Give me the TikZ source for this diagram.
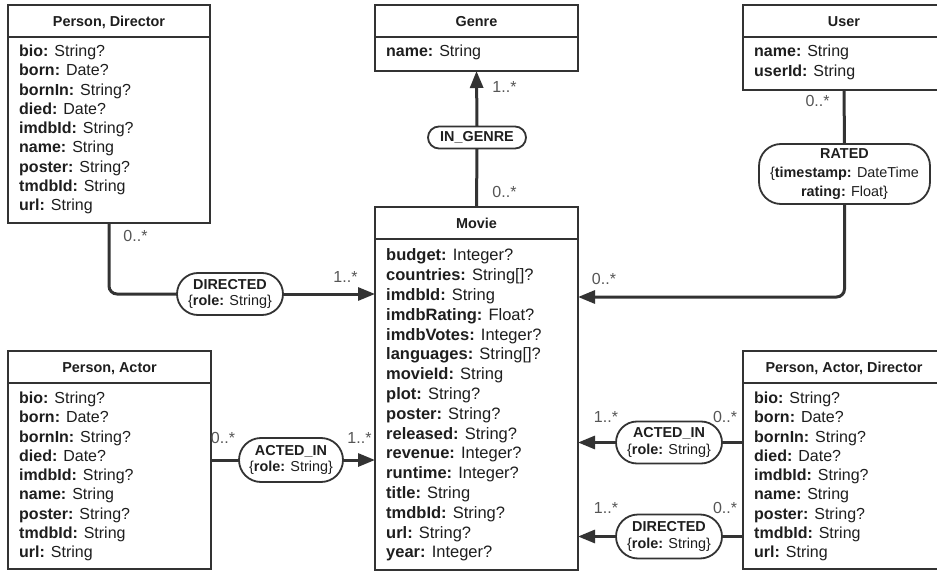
\documentclass[tikz,border=0pt]{standalone}
\usepackage{fontspec}
\setmainfont{Liberation Sans}
\usetikzlibrary{arrows.meta,calc}

\definecolor{ink}{HTML}{333333}
\definecolor{txt}{HTML}{1E1E1E}
\definecolor{cardgray}{HTML}{555555}

\newcommand\headfont{\fontsize{14.4}{17}\selectfont\bfseries}
\newcommand\pillfont{\fontsize{14.4}{16.5}\selectfont}
\newcommand\cardfont{\fontsize{16}{19}\selectfont}

% one text line per attribute, left aligned inside the body of an entity box
% #1 name prefix, #2 box, #3 first baseline below top, #4 line pitch, #5 font size, #6 lines
\newcommand\attrlines[6]{%
  \foreach \entry [count=\k] in {#6}{%
    \pgfmathsetmacro\dy{#3+(\k-1)*#4}%
    \node[attr, font=\fontsize{#5}{#5}\selectfont] (#1-\k)
      at ([xshift=11pt,yshift=-\dy pt]#2.north west) {\entry};
  }}

\begin{document}
\begin{tikzpicture}[x=1pt,y=-1pt,
  entity/.style={draw=ink, line width=2pt, fill=white, inner sep=0pt, outer sep=0pt},
  divider/.style={draw=ink, line width=2pt},
  head/.style={anchor=base, inner sep=0pt, font=\headfont, text=txt},
  attr/.style={anchor=base west, inner sep=0pt, text=txt},
  pill/.style={draw=ink, line width=1.8pt, fill=white, align=center,
    font=\pillfont, text=txt, inner sep=0pt, outer sep=0pt},
  card/.style={inner sep=0pt, font=\cardfont, text=cardgray},
  conn/.style={draw=ink, line width=3pt},
  arr/.style={conn, -{Triangle[length=17pt,width=13pt]}},
]
\useasboundingbox (0,0) rectangle (937,572);
\fill[white] (0,0) rectangle (937,572);
\clip (0,0) rectangle (937,572);

% ---------- entity boxes ----------
\node[entity, minimum width=202pt, minimum height=218pt] (pd)    at (109,114)    {};
\node[entity, minimum width=203pt, minimum height=66pt]  (genre) at (476.5,38)   {};
\node[entity, minimum width=202pt, minimum height=85pt]  (user)  at (844,47.5)   {};
\node[entity, minimum width=203pt, minimum height=363pt] (movie) at (476.5,388.5){};
\node[entity, minimum width=203pt, minimum height=218pt] (pa)    at (109.5,460)  {};
\node[entity, minimum width=202pt, minimum height=218pt] (pad)   at (844,460)    {};

\foreach \b in {pd,genre,user,movie,pa,pad}{
  \draw[divider] ([yshift=-32pt]\b.north west) -- ([yshift=-32pt]\b.north east);
}

% ---------- titles ----------
\node[head] (pd-t)    at ([yshift=-21.2pt]pd.north)    {Person, Director};
\node[head] (genre-t) at ([yshift=-21.2pt]genre.north) {Genre};
\node[head] (user-t)  at ([yshift=-21.2pt]user.north)  {User};
\node[head] (movie-t) at ([yshift=-21.2pt]movie.north) {Movie};
\node[head] (pa-t)    at ([yshift=-21.2pt]pa.north)    {Person, Actor};
\node[head] (pad-t)   at ([yshift=-21.2pt]pad.north)   {Person, Actor, Director};

% ---------- attributes ----------
\attrlines{pd}{pd}{51.7}{19.25}{16}{
  {\textbf{bio:} String?},{\textbf{born:} Date?},{\textbf{bornIn:} String?},
  {\textbf{died:} Date?},{\textbf{imdbId:} String?},{\textbf{name:} String},
  {\textbf{poster:} String?},{\textbf{tmdbId:} String},{\textbf{url:} String}}
\attrlines{genre}{genre}{52}{19.25}{16}{{\textbf{name:} String}}
\attrlines{user}{user}{52}{19.25}{16}{{\textbf{name:} String},{\textbf{userId:} String}}
\attrlines{movie}{movie}{53.9}{19.8}{16.5}{
  {\textbf{budget:} Integer?},{\textbf{countries:} String[]?},{\textbf{imdbId:} String},
  {\textbf{imdbRating:} Float?},{\textbf{imdbVotes:} Integer?},{\textbf{languages:} String[]?},
  {\textbf{movieId:} String},{\textbf{plot:} String?},{\textbf{poster:} String?},
  {\textbf{released:} String?},{\textbf{revenue:} Integer?},{\textbf{runtime:} Integer?},
  {\textbf{title:} String},{\textbf{tmdbId:} String?},{\textbf{url:} String?},
  {\textbf{year:} Integer?}}
\attrlines{pa}{pa}{52.7}{19.25}{16}{
  {\textbf{bio:} String?},{\textbf{born:} Date?},{\textbf{bornIn:} String?},
  {\textbf{died:} Date?},{\textbf{imdbId:} String?},{\textbf{name:} String},
  {\textbf{poster:} String?},{\textbf{tmdbId:} String},{\textbf{url:} String}}
\attrlines{pad}{pad}{52.7}{19.25}{16}{
  {\textbf{bio:} String?},{\textbf{born:} Date?},{\textbf{bornIn:} String?},
  {\textbf{died:} Date?},{\textbf{imdbId:} String?},{\textbf{name:} String},
  {\textbf{poster:} String?},{\textbf{tmdbId:} String},{\textbf{url:} String}}

% ---------- relationship labels ----------
\node[pill, minimum width=98pt,  minimum height=22pt, rounded corners=11pt] (ingenre) at (477,137.5)
  {\textbf{IN\_GENRE}};
\node[pill, minimum width=171pt, minimum height=60pt, rounded corners=22pt,
      font=\fontsize{14.4}{19}\selectfont] (rated) at (844.5,174)
  {\textbf{RATED}\\\{\textbf{timestamp:} DateTime\\\textbf{rating:} Float\}};
\node[pill, minimum width=106pt, minimum height=42pt, rounded corners=21pt] (dir1) at (230,294)
  {\textbf{DIRECTED}\\\{\textbf{role:} String\}};
\node[pill, minimum width=104pt, minimum height=44pt, rounded corners=22pt] (act1) at (291,460)
  {\textbf{ACTED\_IN}\\\{\textbf{role:} String\}};
\node[pill, minimum width=106pt, minimum height=42pt, rounded corners=21pt] (act2) at (669,442.5)
  {\textbf{ACTED\_IN}\\\{\textbf{role:} String\}};
\node[pill, minimum width=106pt, minimum height=44pt, rounded corners=22pt] (dir2) at (669,536.5)
  {\textbf{DIRECTED}\\\{\textbf{role:} String\}};

\coordinate (ratedin) at ([yshift=-90pt]movie.north east);

% ---------- connectors ----------
\draw[conn] (movie.north) -- (ingenre.south);
\draw[arr]  (ingenre.north) -- (genre.south);

\draw[conn] (user.south) -- (rated.north);
\draw[arr, rounded corners=8pt] (rated.south) |- (ratedin);

\draw[conn, rounded corners=8pt] (pd.south) |- (dir1.west);
\draw[arr]  (dir1.east) -- (dir1 -| movie.west);

\draw[conn] (act1 -| pa.east) -- (act1.west);
\draw[arr]  (act1.east) -- (act1 -| movie.west);

\draw[conn] (act2 -| pad.west) -- (act2.east);
\draw[arr]  (act2.west) -- (act2 -| movie.east);

\draw[conn] (dir2 -| pad.west) -- (dir2.east);
\draw[arr]  (dir2.west) -- (dir2 -| movie.east);

% ---------- multiplicities ----------
\node[card] (m1)  at (504.5,87)  {1..*};
\node[card] (m2)  at (504.5,192) {0..*};
\node[card] (m3)  at (817.5,101) {0..*};
\node[card] (m4)  at (604,279)   {0..*};
\node[card] (m5)  at (135.5,236) {0..*};
\node[card] (m6)  at (345.5,277) {1..*};
\node[card] (m7)  at (223,438)   {0..*};
\node[card] (m8)  at (359.5,438) {1..*};
\node[card] (m9)  at (606,417)   {1..*};
\node[card] (m10) at (725,417)   {0..*};
\node[card] (m11) at (606,508)   {1..*};
\node[card] (m12) at (725,508)   {0..*};
\end{tikzpicture}
\end{document}
